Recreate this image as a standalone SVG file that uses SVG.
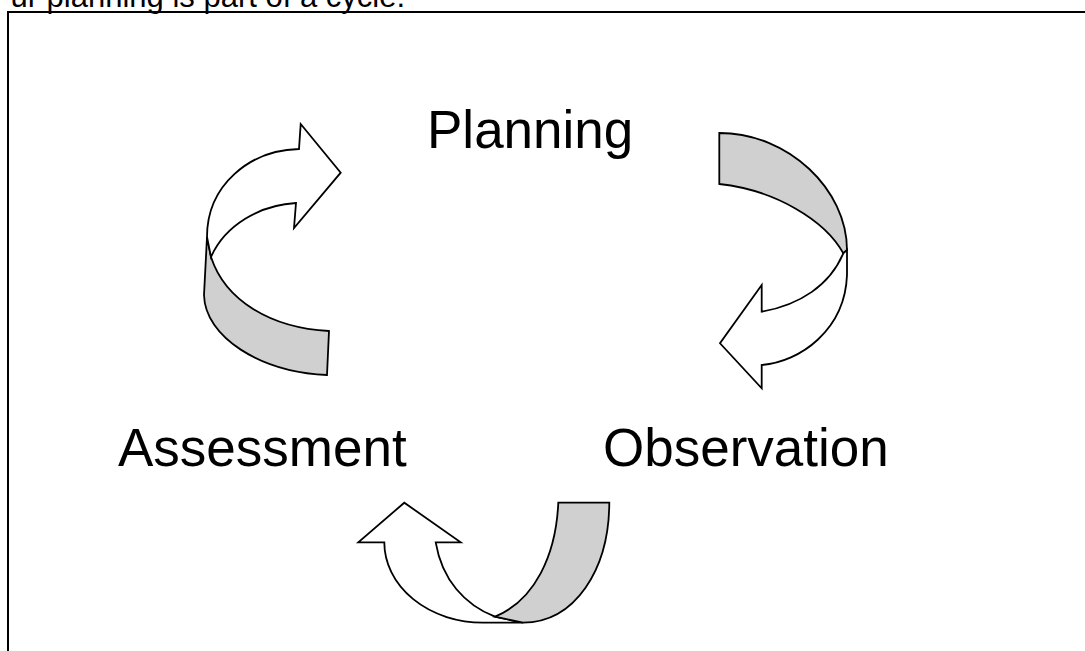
<svg xmlns="http://www.w3.org/2000/svg" width="1085" height="651" viewBox="0 0 1085 651">
<style>
.lbl{font-family:"Liberation Sans",Arial,sans-serif;fill:#000;}
.front{fill:#fff;stroke:#000;stroke-width:1.8;stroke-linejoin:miter;}
.back{fill:#d0d0d0;stroke:#000;stroke-width:1.8;stroke-linejoin:miter;}
.frame{fill:none;stroke:#000;stroke-width:2;}
</style>
<rect width="1085" height="651" fill="#fff"/>
<text class="lbl" x="405" y="7" font-size="31" text-anchor="end">ur planning is part of a cycle.</text>
<path class="frame" d="M1090,12 H8 V660"/>
<g id="connectors">
  <g id="arrow-assessment-planning">
    <path class="back" d="M207,237 L204,295 C205,337 260,372 327,375 L329,331 C270,328 225,300 211,257 Z"/>
    <path class="front" d="M207,237 C207,185 250,150 299,149 L300.7,124 L340.7,172.7 L294,228 L296,203 C260,205 225,225 211,257 Z"/>
  </g>
  <g id="arrow-planning-observation">
    <path class="back" d="M719.3,133 C789,133 847,190 847,250 L843.3,253.3 C825,220 775,190 719.3,184 Z"/>
    <path class="front" d="M847,250 L847,275 C845,330 800,362 761.7,365 L761.7,388.3 L720,343.3 L761.7,285 L761.7,311.7 C800,305 830,285 843.3,253.3 Z"/>
  </g>
  <g id="arrow-observation-assessment">
    <path class="front" d="M523,622.7 L483,622.7 A98.7,80.4 0 0 1 384.3,542.3 L358.3,542.3 L404.3,502.7 L460.7,542.3 L435.7,542.3 C442,580 465,605 495,616.7 Z"/>
    <path class="back" d="M558.3,502.7 L609.3,502.7 C609,570 575,622 523,622.7 L495,616.7 C535,600 556,555 558.3,502.7 Z"/>
  </g>
</g>
<g id="node-planning"><text class="lbl" x="427" y="148" font-size="53">Planning</text></g>
<g id="node-assessment"><text class="lbl" x="118" y="466" font-size="53">Assessment</text></g>
<g id="node-observation"><text class="lbl" x="603" y="466" font-size="53">Observation</text></g>
</svg>
